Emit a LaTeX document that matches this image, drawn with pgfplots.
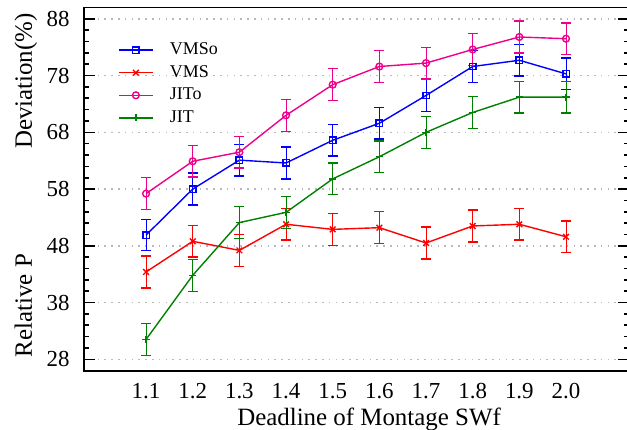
\documentclass[border=0pt]{standalone}
\usepackage{fontspec}
\setmainfont{Liberation Serif}
\usepackage{pgfplots}
\pgfplotsset{compat=1.18}

\definecolor{cgreen}{RGB}{0,128,0}

\begin{document}
\begin{tikzpicture}
\begin{axis}[
    name=ax,
    scale only axis,
    width=272.5bp, height=181.6bp,
    xmin=0.967, xmax=2.135,
    ymin=26, ymax=90,
    xtick={1.1,1.2,1.3,1.4,1.5,1.6,1.7,1.8,1.9,2.0},
    xticklabel style={anchor=north, inner sep=0pt, yshift=-6.2bp,
      /pgf/number format/fixed,
      /pgf/number format/fixed zerofill, /pgf/number format/precision=1},
    ytick={28,38,48,58,68,78,88},
    yticklabel style={anchor=east, inner sep=0pt, xshift=-7bp},
    minor y tick num=4,
    ymajorgrids,
    major grid style={dash pattern=on 0.8bp off 2.6bp, line width=0.7bp, gray!55},
    tick align=inside,
    major tick length=5.5bp, minor tick length=2.6bp,
    x tick style={draw=none},
    y tick style={line width=0.8pt, black},
    axis line style={line width=0.9pt},
    /pgf/number format/assume math mode=true,
    tick label style={font=\rmfamily\fontsize{11.5}{13}\selectfont},
    label style={font=\rmfamily\fontsize{12.5}{14}\selectfont},
    xlabel={Deadline of Montage SWf},
    xlabel style={at={(rel axis cs:0.523,-0.1514)}, anchor=base},
    ylabel={\makebox[172bp]{Relative P\hfill Deviation(\%)}},
    ylabel style={at={(rel axis cs:-0.0955,0.5106)}, anchor=base},
    every axis plot/.append style={line width=0.7pt},
    error bars/y dir=both, error bars/y explicit,
    error bars/error mark options={rotate=90, mark size=2.5bp, line width=0.7pt},
    legend style={draw=none, fill=none, inner sep=0pt,
      at={(rel axis cs:0.062,0.915)}, anchor=north west,
      font=\rmfamily\fontsize{9}{11}\selectfont,
      nodes={text height=6.3bp, text depth=1.6bp, inner sep=1.7bp},
      /tikz/every odd column/.append style={column sep=6.5bp},
      cells={anchor=west}},
    legend cell align=left,
]

\addplot[blue, mark=square, mark size=1.6bp, mark options={solid}]
    table[x=x, y=y, y error=e] {
    x    y     e
    1.1  49.9  2.7
    1.2  58.0  2.8
    1.3  63.1  2.8
    1.4  62.6  2.8
    1.5  66.6  2.8
    1.6  69.6  2.8
    1.7  74.5  2.8
    1.8  79.6  2.8
    1.9  80.7  2.8
    2.0  78.3  2.8
    };
\addlegendentry{VMSo}

\addplot[red, mark=x, mark size=2bp]
    table[x=x, y=y, y error=e] {
    x    y     e
    1.1  43.4  2.8
    1.2  48.8  2.8
    1.3  47.2  2.8
    1.4  51.8  2.8
    1.5  50.9  2.8
    1.6  51.2  2.8
    1.7  48.5  2.8
    1.8  51.5  2.8
    1.9  51.8  2.8
    2.0  49.6  2.8
    };
\addlegendentry{VMS}

\addplot[magenta, mark=o, mark size=1.7bp]
    table[x=x, y=y, y error=e] {
    x    y     e
    1.1  57.2  2.8
    1.2  62.9  2.8
    1.3  64.5  2.8
    1.4  71.0  2.8
    1.5  76.4  2.8
    1.6  79.6  2.8
    1.7  80.2  2.8
    1.8  82.6  2.8
    1.9  84.8  2.8
    2.0  84.5  2.8
    };
\addlegendentry{JITo}

\addplot[cgreen, mark=+, mark size=1.8bp]
    table[x=x, y=y, y error=e] {
    x    y     e
    1.1  31.5  2.8
    1.2  42.8  2.8
    1.3  52.1  2.8
    1.4  53.9  2.8
    1.5  59.8  2.8
    1.6  63.7  2.8
    1.7  68.0  2.8
    1.8  71.5  2.8
    1.9  74.2  2.8
    2.0  74.2  2.8
    };
\addlegendentry{JIT}

\end{axis}
\pgfresetboundingbox
\useasboundingbox ([xshift=-42bp, yshift=-29.65bp]ax.south west)
    rectangle ([xshift=-1bp, yshift=3.75bp]ax.north east);
\end{tikzpicture}
\end{document}
